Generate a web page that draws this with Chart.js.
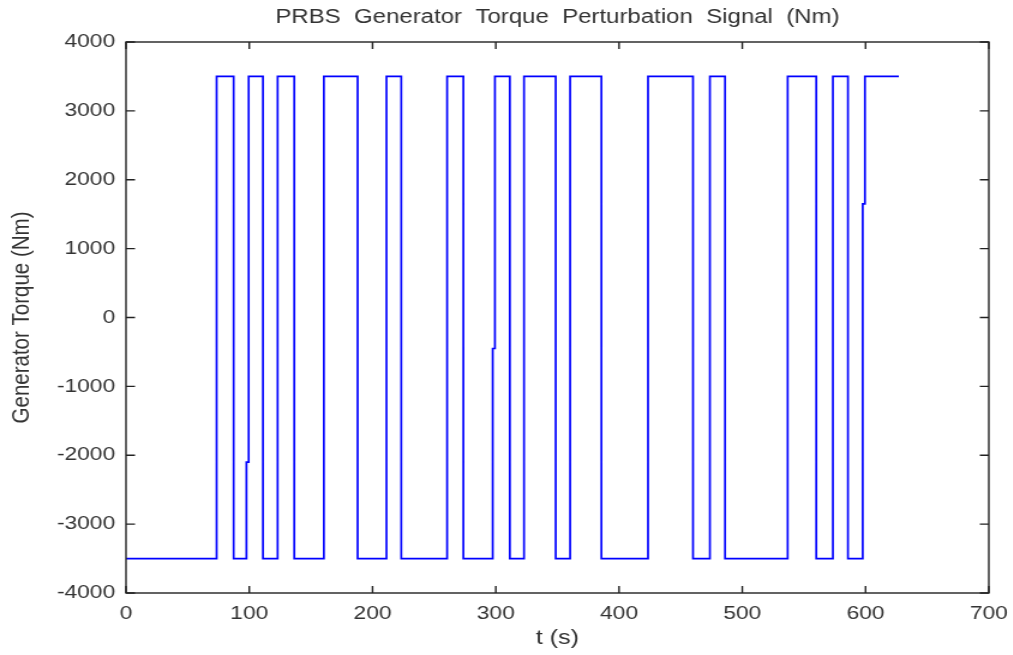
<!DOCTYPE html>
<html>
<head>
<meta charset="utf-8">
<script src="https://cdn.jsdelivr.net/npm/chart.js@4/dist/chart.umd.min.js"></script>
<style>
  html, body { margin: 0; padding: 0; background: #fff; overflow: hidden; }
  #wrap { position: absolute; left: 0; top: 0; width: 844px; height: 655px;
          transform: scaleX(1.2); transform-origin: 0 0; }
</style>
</head>
<body>
<div id="wrap"><canvas id="c"></canvas></div>
<script>
// Switching instants of the PRBS signal (s) and the torque value taken from each instant on (Nm)
const switchTimes = [0, 73.5, 87.3, 97.7, 99.5, 111.1, 123.0, 136.5, 160.5, 187.9, 211.3, 223.3, 260.5,
  273.7, 297.5, 299.3, 311.4, 322.9, 348.6, 360.3, 385.7, 423.5, 460.0, 473.7, 486.0, 536.8,
  560.0, 573.5, 585.7, 597.7, 599.5, 627.0];
const torqueValues = [-3500, 3500, -3500, -2100, 3500, -3500, 3500, -3500, 3500, -3500, 3500, -3500, 3500,
  -3500, -450, 3500, -3500, 3500, -3500, 3500, -3500, 3500, -3500, 3500, -3500, 3500,
  -3500, 3500, -3500, 1650, 3500, 3500];
const xTicks = [0, 100, 200, 300, 400, 500, 600, 700];
const yTicks = [-4000, -3000, -2000, -1000, 0, 1000, 2000, 3000, 4000];

const titleText = 'PRBS  Generator  Torque  Perturbation  Signal  (Nm)';
const xLabel = 't (s)';
const yLabel = 'Generator Torque (Nm)';

const points = switchTimes.map((t, i) => ({ x: t, y: torqueValues[i] }));

const FONT = 'Liberation Sans, Arial, sans-serif';
const TXT = '#333333';
const AX = '#222';

const boxPlugin = {
  id: 'boxPlugin',
  afterDraw(chart) {
    const { ctx, chartArea: a, scales } = chart;
    ctx.save();
    ctx.strokeStyle = AX;
    ctx.lineWidth = 1.4;
    ctx.strokeRect(a.left, a.top, a.right - a.left, a.bottom - a.top);
    ctx.beginPath();
    scales.x.ticks.forEach(tk => {
      const px = scales.x.getPixelForValue(tk.value);
      ctx.moveTo(px, a.bottom); ctx.lineTo(px, a.bottom - 7);
      ctx.moveTo(px, a.top); ctx.lineTo(px, a.top + 7);
    });
    scales.y.ticks.forEach(tk => {
      const py = scales.y.getPixelForValue(tk.value);
      ctx.moveTo(a.left, py); ctx.lineTo(a.left + 7.5, py);
      ctx.moveTo(a.right, py); ctx.lineTo(a.right - 7.5, py);
    });
    ctx.stroke();
    ctx.restore();
  }
};

new Chart(document.getElementById('c'), {
  type: 'line',
  data: {
    datasets: [{
      data: points,
      borderColor: '#0000ff',
      borderWidth: 1.7,
      stepped: true,
      pointRadius: 0,
      fill: false
    }]
  },
  options: {
    responsive: true,
    maintainAspectRatio: false,
    animation: false,
    layout: { padding: { left: 0, right: 20, top: 0, bottom: 0 } },
    plugins: {
      legend: { display: false },
      tooltip: { enabled: false },
      title: {
        display: true,
        fullSize: false,
        text: titleText,
        color: TXT,
        font: { family: FONT, size: 20, weight: 'normal' },
        padding: { top: 5, bottom: 13 }
      }
    },
    scales: {
      x: {
        type: 'linear',
        min: 0, max: 700,
        afterBuildTicks: s => { s.ticks = xTicks.map(v => ({ value: v })); },
        afterFit: s => { s.height = 62; s.paddingLeft = 0; s.paddingRight = 0; },
        grid: { display: false, drawTicks: false },
        border: { display: false },
        ticks: {
          color: TXT, padding: 9, maxRotation: 0, autoSkip: false,
          font: { family: FONT, size: 19 },
          callback: v => String(v)
        },
        title: {
          display: true, text: xLabel, color: TXT,
          font: { family: FONT, size: 21 },
          padding: { top: 0, bottom: 4 }
        }
      },
      y: {
        type: 'linear',
        min: -4000, max: 4000,
        afterBuildTicks: s => { s.ticks = yTicks.map(v => ({ value: v })); },
        afterFit: s => { s.width = 105; s.paddingTop = 0; s.paddingBottom = 0; },
        grid: { display: false, drawTicks: false },
        border: { display: false },
        ticks: {
          color: TXT, padding: 9, autoSkip: false,
          font: { family: FONT, size: 19 },
          callback: v => String(v)
        },
        title: {
          display: true, text: yLabel, color: TXT,
          font: { family: FONT, size: 20.5 },
          padding: { top: 6, bottom: 0 }
        }
      }
    }
  },
  plugins: [boxPlugin]
});
</script>
</body>
</html>
